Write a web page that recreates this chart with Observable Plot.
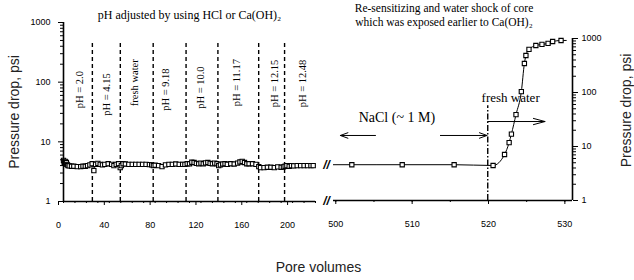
<!DOCTYPE html>
<html><head><meta charset="utf-8">
<script src="https://cdn.jsdelivr.net/npm/d3@7"></script>
<script src="https://cdn.jsdelivr.net/npm/@observablehq/plot@0.6"></script>
<style>
body{margin:0;background:#fff;}
#wrap{position:relative;width:634px;height:280px;overflow:hidden;background:#fff;}
#wrap svg{position:absolute;left:0;top:0;}
</style></head><body><div id="wrap"></div>
<script>
// Left panel: pH-adjusted brine injection
const leftPore = [0,0.5,1,1.5,2,2.5,3,3.5,4,5,7,9,12,15,17,19,21,23,25,26.5,28,30,32,34,36,39,42,44,46,48,49.5,50.5,52,54,57,60,63,66,69,72,75,77,78.5,80,83,86,89,92,95,98,101,104,106,108,110,112,114,116,118,120,122,124,126,128,130,132,134,135.5,137,139,141,143,146,149,152,154,156,158,160,162,165,168,170.5,172,175,178,181,184,187,190,192,193.5,195,197,199,201,204,207,210,213,216,218];
const leftDP = [4.9,4.6,4.4,4.7,4.3,4.5,4.2,4.1,4.0,3.95,3.9,3.9,3.85,3.85,3.9,3.9,4.0,4.1,4.3,3.3,4.2,4.35,4.2,4.1,4.2,4.3,4.2,4.0,4.2,4.3,3.7,4.0,4.3,4.25,4.2,4.2,4.2,4.2,4.2,4.2,4.15,4.1,4.0,4.05,4.0,3.85,4.1,4.2,4.2,4.25,4.2,4.2,4.2,4.3,4.3,4.55,4.5,4.35,4.3,4.4,4.3,4.45,4.5,4.35,4.3,4.4,4.3,4.0,4.1,4.25,4.3,4.2,4.3,4.25,4.4,4.6,4.7,4.5,4.3,4.3,4.3,4.2,3.85,3.7,3.7,3.75,3.75,3.7,3.8,3.75,3.8,3.9,4.0,3.9,4.0,3.95,4.0,4.0,4.0,4.0,4.0,4.0];
// Right panel: NaCl then fresh water shock
const rightPore = [502.1,508.7,515.5,520.6,522.1,522.7,523.0,523.6,524.3,524.7,524.9,525.3,526.2,527.0,527.8,528.4,529.5];
const rightDP = [4.6,4.6,4.6,4.45,7.1,11.8,17,39,104,344,485,627,742,778,810,880,920];
// Annotations
const phBounds = [25.2,49.6,78.3,107,134.8,170.4,193];
const phLabels = ["pH = 2.0","pH = 4.15","fresh water","pH = 9.18","pH = 10.0","pH = 11.17","pH = 12.15","pH = 12.48"];
const phLabelPore = [14,37.5,62,89,119.6,151,184,208.6];
const phLabelDP = [75,62,98,75,81,98,95,95];
const yTicks = [1,10,100,1000];
const leftXTicks = [0,40,80,120,160,200];
const rightXTicks = [500,510,520,530];
const freshStart = 519.9;
const leftTitle = "pH adjusted by using HCl or Ca(OH)\u2082";
const rightTitle1 = "Re-sensitizing and water shock of core";
const rightTitle2 = "which was exposed earlier to Ca(OH)\u2082";

const serif = "Liberation Serif, Times New Roman, serif";
const sans = "Liberation Sans, Arial, sans-serif";
const minorTicks = d3.range(0,3).flatMap(e => d3.range(2,10).map(m => m*Math.pow(10,e)));
const left = leftPore.map((x,i)=>({x, y:leftDP[i]}));
const right = rightPore.map((x,i)=>({x, y:rightDP[i]}));

const p1 = Plot.plot({
  width:634, height:280, marginLeft:63, marginRight:319, marginTop:22, marginBottom:79,
  style:{background:"transparent", overflow:"visible", color:"#000"},
  x:{type:"linear", domain:[0,220]},
  y:{type:"log", domain:[1,1000]},
  marks:[
    Plot.ruleX(phBounds, {y1:1, y2:450, stroke:"#000", strokeWidth:1.4, strokeDasharray:"4,3"}),
    Plot.ruleY([leftDP[leftDP.length-1]], {x1:leftPore[leftPore.length-1], x2:220, stroke:"#000"}),
    Plot.line(left, {x:"x", y:"y", stroke:"#000", strokeWidth:1}),
    Plot.dot(left, {x:"x", y:"y", symbol:"square", r:2.4, fill:"#fff", stroke:"#000", strokeWidth:1.1}),
    Plot.ruleX([0], {stroke:"#000", strokeWidth:1.6}),
    Plot.ruleY([1], {stroke:"#000", strokeWidth:1.6}),
    Plot.axisY(minorTicks, {tickSize:3, tickFormat:()=>"", label:null}),
    Plot.axisY(yTicks, {tickSize:5, tickPadding:8, tickFormat:d=>String(d), fontSize:9, fontFamily:sans, label:null}),
    Plot.axisX(d3.range(0,221,10), {tickSize:2, tickFormat:()=>"", label:null}),
    Plot.axisX(leftXTicks, {tickSize:4, tickPadding:16, dx:-5, fontSize:9, fontFamily:sans, label:null}),
    Plot.text(phLabels, {x:(d,i)=>phLabelPore[i], y:(d,i)=>phLabelDP[i], rotate:-90, fontFamily:serif, fontSize:10.5, fill:"#000"}),
    Plot.text([leftTitle], {frameAnchor:"top", lineAnchor:"middle", dy:-7, fontFamily:serif, fontSize:12, fill:"#000"}),
    Plot.text(["Pressure drop, psi"], {frameAnchor:"left", textAnchor:"middle", lineAnchor:"middle", rotate:-90, dx:-49, fontFamily:sans, fontSize:14, fill:"#222"}),
    Plot.text(["Pore volumes"], {frameAnchor:"bottom-right", textAnchor:"middle", lineAnchor:"middle", dx:3, dy:66, fontFamily:sans, fontSize:14, fill:"#222"}),
    Plot.text([leftDP[leftDP.length-1], 1], {x:220, y:d=>d, text:()=>"//", dx:11, fontFamily:sans, fontStyle:"italic", fontWeight:"bold", fontSize:12, fill:"#000"})
  ]
});

const p2 = Plot.plot({
  width:634, height:280, marginLeft:333, marginRight:62, marginTop:38, marginBottom:80,
  style:{background:"transparent", overflow:"visible", color:"#000"},
  x:{type:"linear", domain:[499.7,531]},
  y:{type:"log", domain:[1,1000]},
  marks:[
    Plot.ruleX([freshStart], {y1:1, y2:57, stroke:"#000", strokeWidth:1.4, strokeDasharray:"6,2,1.5,2"}),
    Plot.ruleY([rightDP[0]], {x1:499.7, x2:rightPore[0], stroke:"#000"}),
    Plot.line(right, {x:"x", y:"y", stroke:"#000", strokeWidth:1, curve:"monotone-x"}),
    Plot.ruleY([rightDP[rightDP.length-1]], {x1:rightPore[rightPore.length-1], x2:530.3, stroke:"#000"}),
    Plot.dot(right, {x:"x", y:"y", symbol:"square", r:2.4, fill:"#fff", stroke:"#000", strokeWidth:1.1}),
    Plot.ruleX([531], {stroke:"#000", strokeWidth:1.6}),
    Plot.ruleY([1], {stroke:"#000", strokeWidth:1.6}),
    Plot.axisY(minorTicks, {anchor:"right", tickSize:3, tickFormat:()=>"", label:null}),
    Plot.axisY(yTicks, {anchor:"right", tickSize:5, tickPadding:4, tickFormat:d=>String(d), fontSize:9, fontFamily:sans, label:null}),
    Plot.axisX(d3.range(500,531,5), {tickSize:2, tickFormat:()=>"", label:null}),
    Plot.axisX(rightXTicks, {tickSize:4, tickPadding:16, fontSize:9, fontFamily:sans, label:null}),
    Plot.arrow([{a:505.2,b:500.6},{a:513.7,b:519.8}], {x1:"a", x2:"b", y1:16, y2:16, stroke:"#000", strokeWidth:1, headLength:12, headAngle:40}),
    Plot.arrow([{a:freshStart,b:527.4}], {x1:"a", x2:"b", y1:29, y2:29, stroke:"#000", strokeWidth:1, headLength:18, headAngle:30}),
    Plot.text(["NaCl (~ 1 M)"], {x:508, y:34, fontFamily:serif, fontSize:14, fill:"#000"}),
    Plot.text(["fresh water"], {x:522.9, y:81, fontFamily:serif, fontSize:13, fill:"#000"}),
    Plot.text([rightTitle1], {frameAnchor:"top", lineAnchor:"middle", dx:-9, dy:-30, fontFamily:serif, fontSize:11.5, fill:"#000"}),
    Plot.text([rightTitle2], {frameAnchor:"top", lineAnchor:"middle", dx:-9, dy:-16, fontFamily:serif, fontSize:11.5, fill:"#000"}),
    Plot.text(["Pressure drop, psi"], {frameAnchor:"right", textAnchor:"middle", lineAnchor:"middle", rotate:-90, dx:54, dy:-9, fontFamily:sans, fontSize:14, fill:"#222"})
  ]
});

document.getElementById("wrap").append(p1, p2);
</script></body></html>
